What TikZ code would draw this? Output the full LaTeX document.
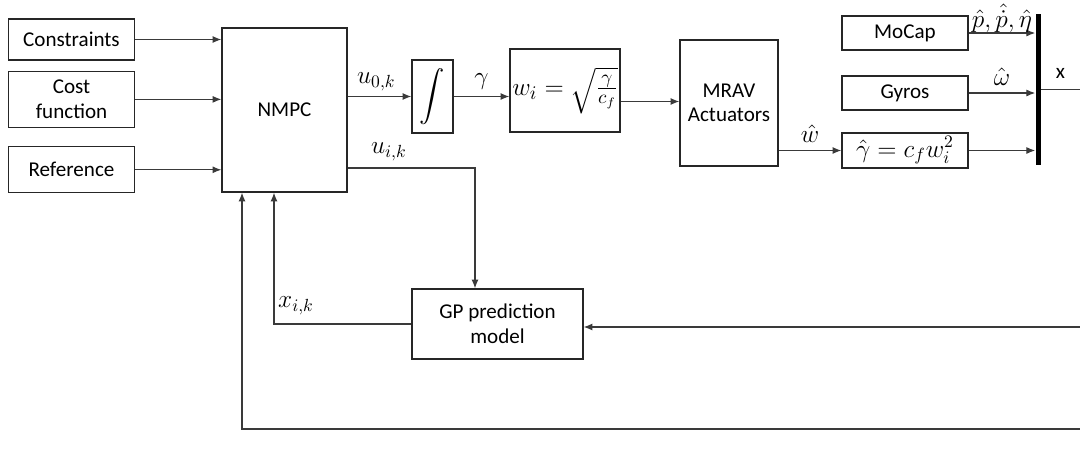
\documentclass[tikz,border=0pt]{standalone}
\usepackage{fontspec}
\setmainfont{Carlito}
\usepackage{amsmath}
\usetikzlibrary{positioning, arrows.meta}
\definecolor{wire}{HTML}{3A3A3A}
\tikzset{
  blk/.style={draw=black!85, line width=0.8pt, align=center, font=\fontsize{12}{14}\selectfont,
              inner sep=2pt, minimum width=2.52cm},
  arr/.style={-{Latex[length=5pt,width=4pt]}, line width=0.6pt, draw=wire},
  lbl/.style={font=\fontsize{14}{16}\selectfont, inner sep=1pt},
}

\begin{document}
\begin{tikzpicture}[x=0.02cm, y=-0.02cm, node distance=0.2cm]
        \useasboundingbox (0,0) rectangle (1080,450);
        % inputs and controller
        \node[blk, minimum height=0.82cm] (cons) at (71.5,39.5) {Constraints};
        \node[blk, minimum height=1.12cm, below=of cons] (cost) {Cost\\function};
        \node[blk, minimum height=0.92cm, below=0.36cm of cost] (ref) {Reference};
        \node[blk, minimum width=2.5cm, minimum height=3.28cm] (nmpc) at (284.5,110) {NMPC};
        % actuation chain
        \node[blk, minimum width=0.82cm, minimum height=1.46cm, inner sep=0pt] (intg) at (432.5,96.5) {\fontsize{15}{17}\selectfont$\displaystyle\int$};
        \node[blk, minimum width=2.2cm, minimum height=1.66cm, inner sep=0pt] (wsq) at (565,90.5) {\fontsize{15}{17}\selectfont$w_i = \sqrt{\frac{\gamma}{c_f}}$};
        \node[blk, minimum width=1.96cm, minimum height=2.52cm] (mrav) at (729,103) {MRAV\\Actuators};
        % sensors
        \node[blk, minimum height=0.68cm] (mocap) at (905,33) {MoCap};
        \node[blk, minimum height=0.68cm] (gyro) at (905,93) {Gyros};
        \node[blk, minimum height=0.68cm, font=\fontsize{14}{16}\selectfont] (gest) at (905,150.5) {$\hat{\gamma} = c_f w_i^2$};
        \node[fill=black, inner sep=0pt, minimum width=0.1cm, minimum height=3.02cm] (bus) at (1038,89.5) {};
        \node[blk, minimum width=3.42cm, minimum height=1.4cm] (gp) at (497.5,324) {GP prediction\\model};
        \coordinate (xout) at (1080,89.5);
        \coordinate (fbgp) at (1080,327);
        \coordinate (fbnm) at (1080,429);

        \draw[arr] (cons.east) -- (cons.east -| nmpc.west);
        \draw[arr] (cost.east) -- (cost.east -| nmpc.west);
        \draw[arr] (ref.east) -- (ref.east -| nmpc.west);
        \draw[arr] (nmpc.east |- intg.west) -- (intg.west) node[lbl, pos=0.45, above=2pt] {$u_{0,k}$};
        \draw[arr] (intg.east) -- (intg.east -| wsq.west) node[lbl, midway, above=3pt] {$\gamma$};
        \draw[arr] ([yshift=-0.22cm]wsq.east) -- ([yshift=-0.22cm]wsq.east -| mrav.west);
        \draw[arr] (gest.west -| mrav.east) -- (gest.west) node[lbl, midway, above=3pt] {$\hat{w}$};
        \draw[arr] (mocap.east) -- (mocap.east -| bus.west) node[lbl, midway, above=-1pt] {$\hat{p},\hat{\dot{p}},\hat{\eta}$};
        \draw[arr] (gyro.east) -- (gyro.east -| bus.west) node[lbl, midway, above=3pt] {$\hat{\omega}$};
        \draw[arr] (gest.east) -- (gest.east -| bus.west);
        \draw[line width=0.6pt, draw=wire] (bus.east) -- (xout) node[lbl, midway, above=5pt, font=\fontsize{12}{14}\selectfont] {x};
        % prediction loop
        \draw[arr] ([yshift=-1.16cm]nmpc.east) node[lbl, anchor=south west, xshift=12pt, yshift=3pt] {$u_{i,k}$}
              -| ([xshift=-0.45cm]gp.north);
        \draw[arr] (gp.west) -| ([xshift=-0.21cm]nmpc.south);
        \node[lbl] (xik) at (296,306) {$x_{i,k}$};
        \draw[arr] (fbgp) -- (fbgp -| gp.east);
        \draw[arr] (fbnm) -| ([xshift=-0.85cm]nmpc.south);
      \end{tikzpicture}
\end{document}
